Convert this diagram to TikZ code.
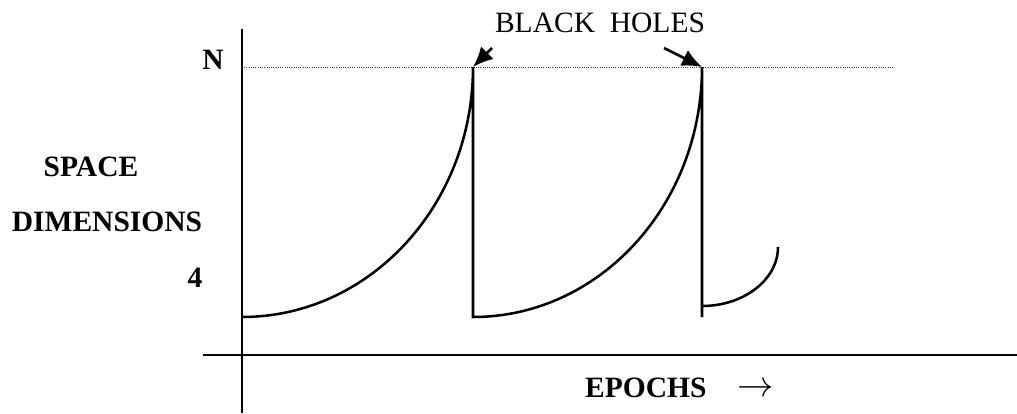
\documentclass[tikz,border=0pt]{standalone}
\usepackage{fontspec}
\setmainfont{Liberation Serif}
\usetikzlibrary{arrows.meta,positioning}

\begin{document}
\begin{tikzpicture}[every node/.style={font=\fontsize{21}{25}\selectfont, inner sep=0pt},
  axis/.style={line width=1.9pt},
  epoch/.style={line width=1.8pt},
  bh/.style={line width=1.8pt, -{Latex[length=5mm,width=4.4mm]}}]
  \useasboundingbox (-6.05,-1.45) rectangle (19.375,8.875);

  % Axes
  \draw[axis] (0,-1.45) -- (0,8.15);
  \draw[axis] (-0.975,0) -- (19.375,0);

  % Niveau N (pointille)
  \draw[densely dotted, line width=0.6pt, black!80] (0,7.2) -- (16.275,7.2);

  % Les trois epoques
  \coordinate (peakA) at (5.775,7.2);
  \coordinate (peakB) at (11.5,7.2);
  \draw[epoch] (0,0.95) arc[start angle=270, end angle=360, x radius=5.775cm, y radius=6.25cm]
    -- (5.775,0.95) arc[start angle=270, end angle=360, x radius=5.725cm, y radius=6.25cm]
    -- (11.5,0.95);
  \draw[epoch] (11.5,1.225) arc[start angle=270, end angle=360, x radius=1.9cm, y radius=1.475cm];

  % Labels
  \node (nlab) at (-0.725,7.375) {\textbf{N}};
  \node (fourlab) at (-1.175,1.925) {\textbf{4}};
  \node (spacelab) at (-3.775,4.7) {\textbf{SPACE}};
  \node (dimlab) at (-3.375,3.325) {\textbf{DIMENSIONS}};
  \node (epochlab) at (10.94,-0.825) {\textbf{EPOCHS}\hspace{1.05em}\raisebox{0.05em}{\scalebox{1.25}{$\rightarrow$}}};
  \node (bhlab) at (8.95,8.3) {BLACK\ \ HOLES};

  % Fleches vers les trous noirs
  \coordinate (tailA) at (6.25,7.675);
  \coordinate (tailB) at (10.55,7.675);
  \draw[bh] (tailA) -- (peakA);
  \draw[bh] (tailB) -- (peakB);
\end{tikzpicture}
\end{document}
